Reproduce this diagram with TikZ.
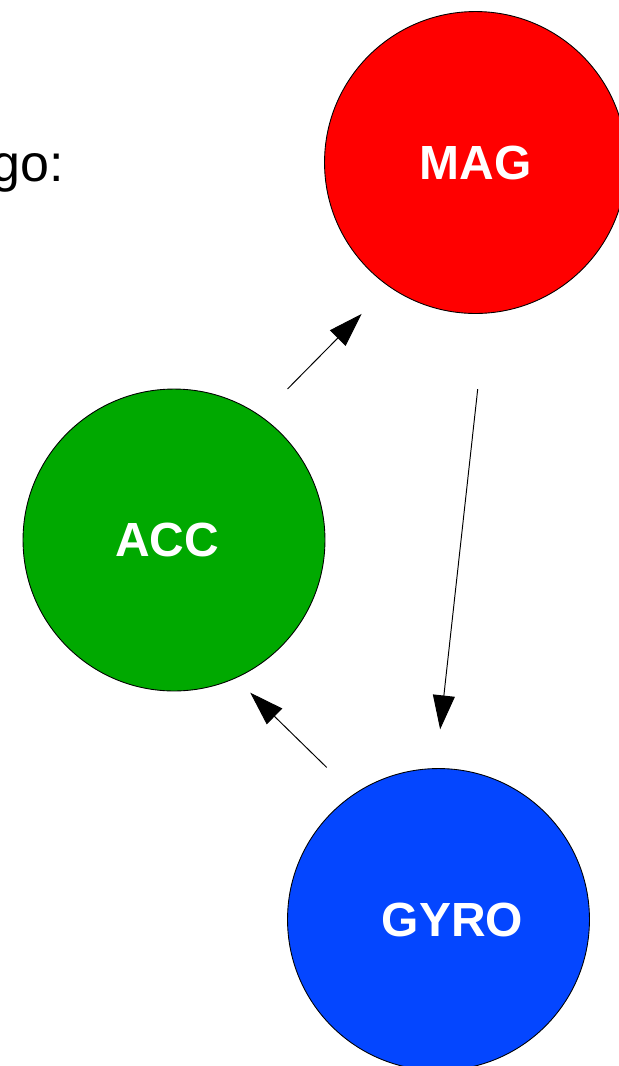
\documentclass[tikz,border=0pt]{standalone}
\usepackage{fontspec}
\setmainfont{Liberation Sans}
\usetikzlibrary{arrows.meta}
\definecolor{magred}{HTML}{FF0000}
\definecolor{accgreen}{HTML}{00A900}
\definecolor{gyroblue}{HTML}{0446FF}
\begin{document}
\begin{tikzpicture}[x=0.02cm, y=-0.02cm,
  sensor/.style={circle, draw=black, line width=0.5pt, inner sep=0pt, minimum size=6.04cm},
  tag/.style={font=\fontsize{27.3}{32}\selectfont\bfseries, text=white},
  flow/.style={line width=0.55pt, -{Triangle[length=0.68cm, width=0.44cm]}},
]
  % quadro de 619 x 1066, com y a crescer para baixo
  \useasboundingbox (0,0) rectangle (619,1066);
  \node[font=\fontsize{29.6}{34}\selectfont, anchor=base east] (algo) at (70,181) {go:};

  \node[sensor, fill=magred, label={[tag]center:MAG}] (mag) at (475.5,162.5) {};
  \node[sensor, fill=accgreen, label={[tag, xshift=-0.14cm]center:ACC}] (acc) at (174,540) {};
  \node[sensor, fill=gyroblue, label={[tag, xshift=0.28cm]center:GYRO}] (gyro) at (438.5,919.5) {};

  % ciclo acc -> mag -> gyro -> acc
  \draw[flow, shorten <=0.76cm, shorten >=0.77cm] (acc.55) -- (mag.235);
  \draw[flow, shorten <=1.52cm, shorten >=0.78cm] (mag.274) -- (gyro.91);
  \draw[flow, shorten <=0.76cm, shorten >=0.41cm] (gyro.124) -- (acc.294);
\end{tikzpicture}
\end{document}
